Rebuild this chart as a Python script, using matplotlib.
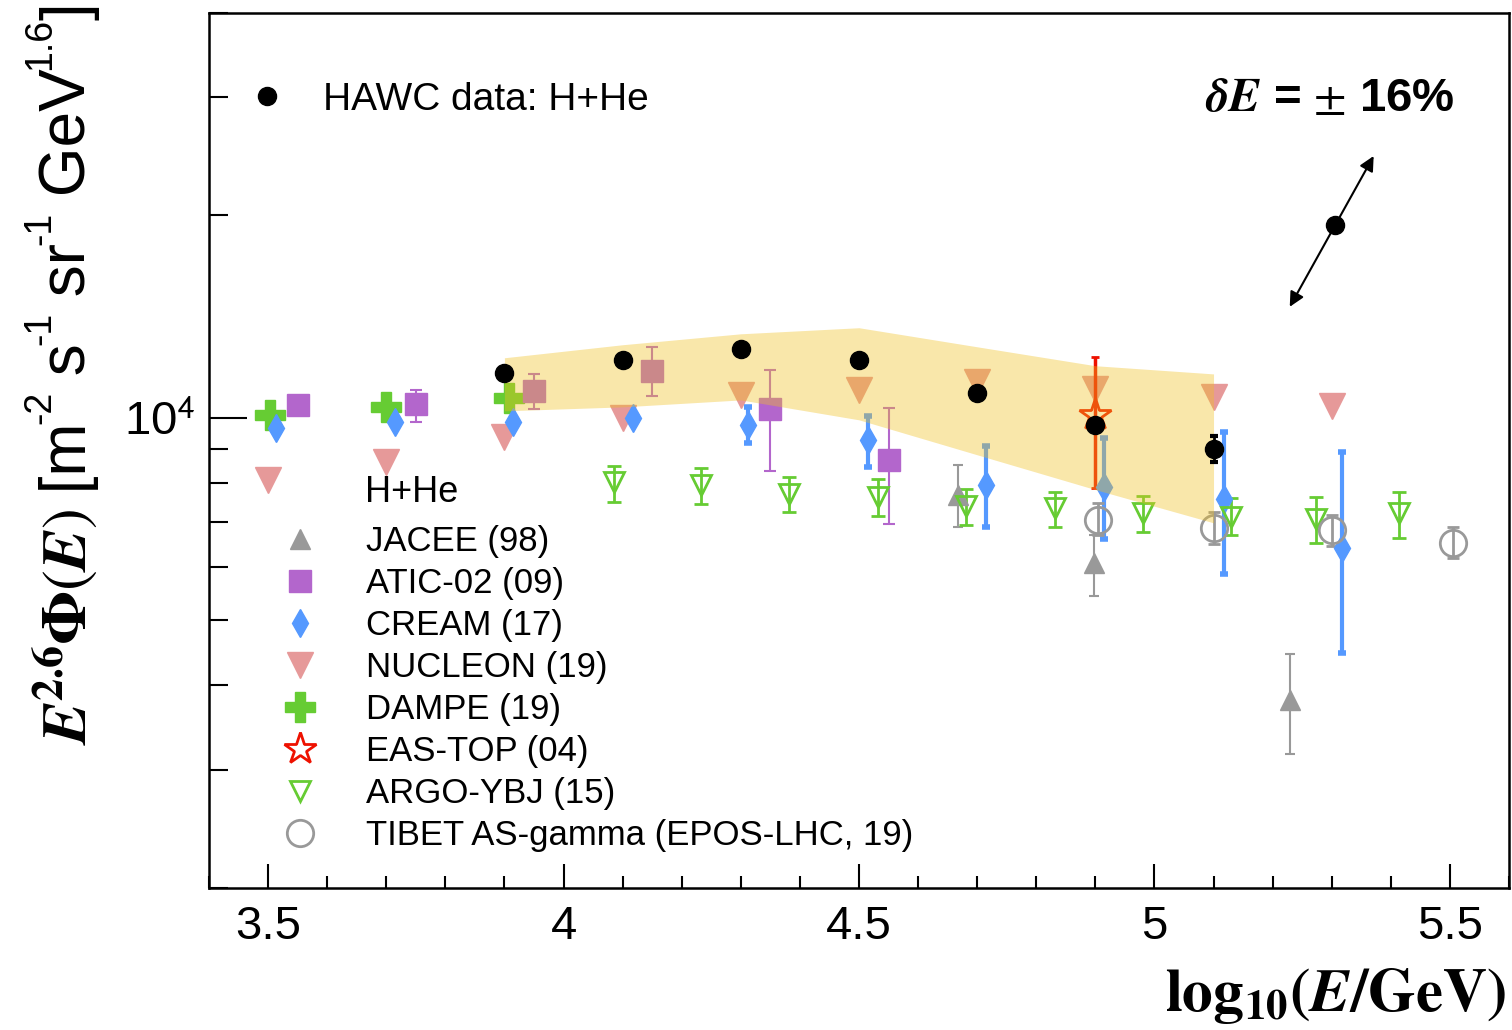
import numpy as np
import matplotlib
matplotlib.use('Agg')
import matplotlib.pyplot as plt
from matplotlib.lines import Line2D
from matplotlib.ticker import FixedLocator, FixedFormatter, LogLocator, MultipleLocator, NullFormatter, FuncFormatter

plt.rcParams['font.family'] = ['Liberation Sans', 'DejaVu Sans']
plt.rcParams['mathtext.fontset'] = 'stix'

# HAWC H+He spectrum (E^2.6 x flux) with systematic band
hawc_x = [3.9, 4.1, 4.3, 4.5, 4.7, 4.9, 5.1]
hawc_y = [11665, 12180, 12660, 12200, 10890, 9760, 8990]
hawc_lo = [11665, 12180, 12660, 12200, 10890, 9760, 8600]
hawc_hi = [11665, 12180, 12660, 12200, 10890, 9760, 9400]
band_lo = [10240, 10380, 10630, 9930, 8810, 7820, 6980]
band_hi = [12280, 12840, 13330, 13610, 12750, 11950, 11620]

# other experiments
jacee_x = [4.668, 4.897, 5.23]
jacee_y = [7680, 6090, 3810]
jacee_lo = [6890, 5440, 3160]
jacee_hi = [8520, 6700, 4450]

atic_x = [3.55, 3.75, 3.95, 4.15, 4.35, 4.55]
atic_y = [10455, 10490, 10970, 11750, 10310, 8660]
atic_lo = [10455, 9860, 10310, 10780, 8345, 6960]
atic_hi = [10455, 11005, 11620, 12750, 11780, 10350]

cream_x = [3.514, 3.714, 3.914, 4.117, 4.313, 4.515, 4.715, 4.915, 5.118, 5.317]
cream_y = [9660, 9860, 9860, 10000, 9760, 9275, 7950, 7895, 7580, 6410]
cream_lo = [9660, 9860, 9860, 10000, 9180, 8460, 6890, 6610, 5860, 4475]
cream_hi = [9660, 9860, 9860, 10000, 10380, 10070, 9085, 9340, 9530, 8900]

nucleon_x = [3.5, 3.7, 3.9, 4.1, 4.3, 4.5, 4.7, 4.9, 5.1, 5.3]
nucleon_y = [8090, 8600, 9370, 10000, 10820, 11005, 11310, 11040, 10745, 10420]

dampe_x = [3.503, 3.70, 3.908]
dampe_y = [10100, 10380, 10710]

eastop_x = [4.9]
eastop_y = [10100]
eastop_lo = [7870]
eastop_hi = [12320]

argo_x = [4.085, 4.232, 4.381, 4.532, 4.681, 4.832, 4.981, 5.129, 5.273, 5.414]
argo_y = [8034, 7953, 7708, 7630, 7398, 7348, 7226, 7127, 7078, 7226]
argo_lo = [7502, 7450, 7248, 7152, 6935, 6887, 6771, 6702, 6521, 6633]
argo_hi = [8487, 8431, 8174, 8119, 7844, 7762, 7657, 7605, 7631, 7762]

tibet_x = [4.905, 5.1, 5.3, 5.505]
tibet_y = [7053, 6862, 6818, 6525]
tibet_lo = [6702, 6500, 6455, 6195]
tibet_hi = [7477, 7248, 7174, 6887]

# energy scale uncertainty arrow (lower end, centre, upper end)
escale_x = [5.229, 5.305, 5.371]
escale_y = [14620, 19350, 24500]

fig = plt.figure(figsize=(15.12, 10.30), dpi=100)
ax = fig.add_axes([0.1382, 0.1379, 0.8598, 0.8497])
ax.set_yscale('log')


def errs(y, lo, hi):
    y = np.array(y, dtype=float)
    return [y - np.array(lo), np.array(hi) - y]


ax.errorbar(jacee_x, jacee_y, yerr=errs(jacee_y, jacee_lo, jacee_hi), fmt='^', ms=15,
            color='#999999', elinewidth=1.5, capsize=3.5, capthick=1.5, zorder=3)
ax.errorbar(atic_x, atic_y, yerr=errs(atic_y, atic_lo, atic_hi), fmt='s', ms=16,
            color='#b366cc', elinewidth=1.5, capsize=4, capthick=1.5, zorder=3)
ax.plot(nucleon_x, nucleon_y, 'v', ms=19, color='#e69999', linestyle='none', zorder=2)
ax.errorbar(cream_x, cream_y, yerr=errs(cream_y, cream_lo, cream_hi), fmt='d', ms=14,
            color='#5599ff', elinewidth=3, capsize=3, capthick=4, zorder=3)
ax.plot(dampe_x, dampe_y, 'P', ms=22, color='#66cc33', linestyle='none', zorder=2)
ax.errorbar(argo_x, argo_y, yerr=errs(argo_y, argo_lo, argo_hi), fmt='v', ms=15,
            mfc='none', mec='#66cc33', mew=2, ecolor='#66cc33', elinewidth=2,
            capsize=5, capthick=2, zorder=3)
ax.errorbar(tibet_x, tibet_y, yerr=errs(tibet_y, tibet_lo, tibet_hi), fmt='o', ms=19,
            mfc='none', mec='#999999', mew=2, ecolor='#999999', elinewidth=2,
            capsize=4, capthick=2, zorder=3)
ax.errorbar(eastop_x, eastop_y, yerr=errs(eastop_y, eastop_lo, eastop_hi), fmt='*', ms=24,
            mfc='none', mec='#ee1100', mew=2, ecolor='#ee1100', elinewidth=2.5,
            capsize=3, capthick=3, zorder=3)

# systematic band drawn over the other data
ax.fill_between(hawc_x, band_lo, band_hi, color='#f0c020', alpha=0.38, lw=0, zorder=5)

hawc = ax.errorbar(hawc_x, hawc_y, yerr=errs(hawc_y, hawc_lo, hawc_hi), fmt='o', ms=13,
                   color='black', elinewidth=2, capsize=3, capthick=3, zorder=6)

# energy scale arrow
ax.annotate('', xy=(escale_x[2], escale_y[2]), xytext=(escale_x[0], escale_y[0]),
            arrowprops=dict(arrowstyle='<|-|>', color='black', lw=1.5,
                            mutation_scale=22, shrinkA=0, shrinkB=0), zorder=6)
ax.plot(escale_x[1], escale_y[1], 'o', ms=13, color='black', zorder=7)
ax.text(0.862, 0.901, r'$\mathbfit{\delta E}$ = $\pm$ 16%', transform=ax.transAxes,
        fontsize=34, fontweight='bold', ha='center', va='center')

ax.set_xlim(3.4, 5.6)
ax.set_ylim(2000, 40000)

ax.xaxis.set_major_locator(MultipleLocator(0.5))
ax.xaxis.set_minor_locator(MultipleLocator(0.1))
ax.xaxis.set_major_formatter(FuncFormatter(lambda v, p: '%g' % v))
ax.yaxis.set_major_locator(FixedLocator([1e4]))
ax.yaxis.set_major_formatter(FixedFormatter([r'10$^{\mathsf{4}}$']))
ax.yaxis.set_minor_locator(LogLocator(subs=np.arange(2, 10)))
ax.yaxis.set_minor_formatter(NullFormatter())

ax.tick_params(axis='x', which='major', direction='in', length=17, width=1.5, labelsize=34, pad=12)
ax.tick_params(axis='x', which='minor', direction='in', length=8.5, width=1.5)
ax.tick_params(axis='y', which='major', direction='in', length=27, width=1.5, labelsize=34, pad=10)
ax.tick_params(axis='y', which='minor', direction='in', length=14, width=1.5)
for s in ax.spines.values():
    s.set_linewidth(1.8)

# y title built from pieces so the unit exponents stay small (ROOT style)
renderer = fig.canvas.get_renderer()
W, H = fig.bbox.width, fig.bbox.height
ylab_parts = [(r'$\mathbfit{E}^{\mathbf{2.6}}\mathbf{\Phi}(\mathbfit{E})$', 45, False),
              (' [m', 46, False), ('-2', 27, True), (' s', 46, False), ('-1', 27, True),
              (' sr', 46, False), ('-1', 27, True), (' GeV', 46, False), ('1.6', 27, True),
              (']', 46, False)]
ypos = H - 745
for txt, size, sup in ylab_parts:
    xb = 86 - (36 if sup else 0)
    t = fig.text(xb / W, ypos / H, txt, rotation=90, rotation_mode='anchor',
                 ha='left', va='baseline', fontsize=size)
    ypos += t.get_window_extent(renderer).height - 2

fig.text(0.996, 0.004, r'$\mathbf{log}_{\mathbf{10}}\mathbf{(}\mathbfit{E}\mathbf{/GeV)}$',
         ha='right', va='bottom', fontsize=44)

# legends
leg1 = ax.legend([Line2D([], [], marker='o', ms=13, color='black', linestyle='none')],
                 ['HAWC data: H+He'], loc='upper left', bbox_to_anchor=(0.030, 0.921),
                 frameon=False, fontsize=28, handlelength=1.0, handletextpad=0.92,
                 borderpad=0, borderaxespad=0)
ax.add_artist(leg1)

labels = ['JACEE (98)', 'ATIC-02 (09)', 'CREAM (17)', 'NUCLEON (19)', 'DAMPE (19)',
          'EAS-TOP (04)', 'ARGO-YBJ (15)', 'TIBET AS-gamma (EPOS-LHC, 19)']
handles = [
    Line2D([], [], marker='^', ms=15, color='#999999', linestyle='none'),
    Line2D([], [], marker='s', ms=16, color='#b366cc', linestyle='none'),
    Line2D([], [], marker='d', ms=14, color='#5599ff', linestyle='none'),
    Line2D([], [], marker='v', ms=19, color='#e69999', linestyle='none'),
    Line2D([], [], marker='P', ms=22, color='#66cc33', linestyle='none'),
    Line2D([], [], marker='*', ms=24, mfc='none', mec='#ee1100', mew=2, linestyle='none'),
    Line2D([], [], marker='v', ms=15, mfc='none', mec='#66cc33', mew=2, linestyle='none'),
    Line2D([], [], marker='o', ms=19, mfc='none', mec='#999999', mew=2, linestyle='none'),
]
ax.legend(handles, labels, loc='upper left', bbox_to_anchor=(0.0566, 0.4146),
          frameon=False, fontsize=25, handlelength=1.0, handletextpad=1.4,
          labelspacing=0.26, borderpad=0, borderaxespad=0)
ax.text(0.12, 0.4515, 'H+He', transform=ax.transAxes, fontsize=26, va='center', ha='left')

fig.savefig('out.png', dpi=100)
